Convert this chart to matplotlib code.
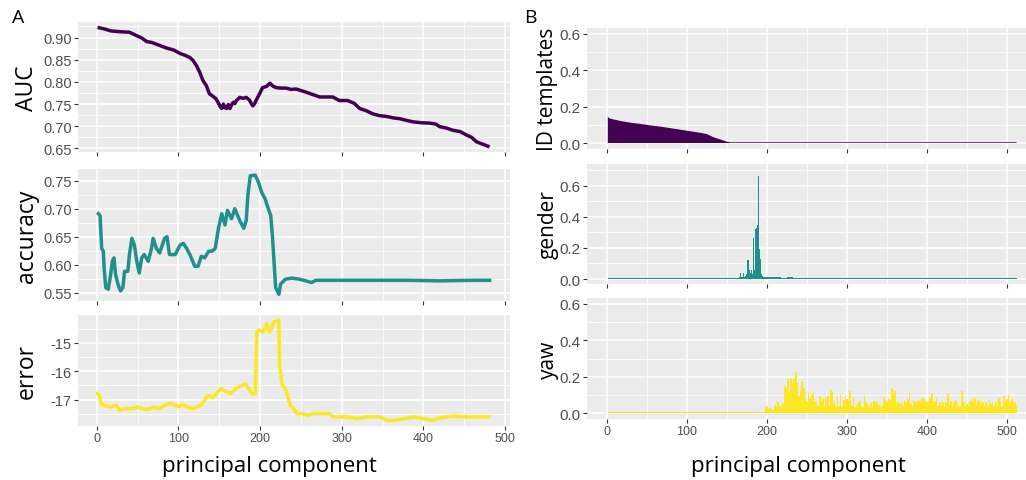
import numpy as np
import matplotlib
matplotlib.use("Agg")
import matplotlib.pyplot as plt
from matplotlib.ticker import MultipleLocator, FormatStrFormatter

# ---- panel A: sliding-window decoding over principal components ----
auc_pc = [3, 10, 17, 29, 40, 49, 55, 61, 67, 73, 80, 86, 94, 102, 108, 114, 118, 122, 126, 130,
          134, 138, 142, 146, 149, 151, 153, 155, 157, 159, 161, 163, 165, 167, 169, 171, 175, 179, 183, 187,
          189, 191, 193, 195, 199, 203, 208, 212, 216, 220, 226, 232, 238, 244, 256, 273, 289, 297, 307, 315,
          322, 330, 338, 346, 355, 363, 371, 380, 387, 397, 408, 415, 420, 428, 436, 445, 453, 459, 465, 472, 479]
auc = [0.922, 0.919, 0.915, 0.913, 0.912, 0.904, 0.899, 0.891, 0.889, 0.885, 0.880, 0.876, 0.872, 0.864, 0.860, 0.855, 0.848, 0.837, 0.822, 0.803,
       0.792, 0.773, 0.768, 0.762, 0.752, 0.745, 0.740, 0.750, 0.742, 0.740, 0.749, 0.740, 0.748, 0.754, 0.751, 0.758, 0.765, 0.763, 0.765, 0.759,
       0.752, 0.746, 0.750, 0.758, 0.772, 0.787, 0.790, 0.797, 0.790, 0.787, 0.786, 0.786, 0.783, 0.784, 0.777, 0.766, 0.766, 0.758, 0.758, 0.752,
       0.740, 0.735, 0.728, 0.724, 0.722, 0.719, 0.717, 0.713, 0.710, 0.708, 0.707, 0.705, 0.699, 0.696, 0.691, 0.688, 0.680, 0.675, 0.665, 0.660, 0.655]

acc_pc = [2, 4, 6, 8, 9, 11, 14, 17, 19, 21, 23, 26, 29, 32, 34, 38, 40, 43, 46, 49,
          52, 55, 58, 63, 67, 69, 73, 77, 83, 86, 89, 96, 102, 106, 110, 114, 120, 124, 128, 132,
          137, 141, 145, 149, 153, 157, 160, 165, 169, 175, 180, 183, 185, 188, 194, 198, 202, 206, 210, 213,
          215, 217, 219, 223, 225, 231, 239, 248, 256, 263, 268, 288, 330, 380, 420, 460, 481]
accuracy = [0.691, 0.688, 0.629, 0.624, 0.594, 0.559, 0.556, 0.582, 0.606, 0.612, 0.582, 0.565, 0.553, 0.559, 0.588, 0.588, 0.618, 0.647, 0.635, 0.606,
            0.585, 0.612, 0.618, 0.606, 0.629, 0.647, 0.629, 0.621, 0.647, 0.650, 0.618, 0.618, 0.635, 0.638, 0.629, 0.618, 0.597, 0.597, 0.615, 0.612,
            0.624, 0.624, 0.629, 0.665, 0.691, 0.671, 0.697, 0.682, 0.700, 0.679, 0.665, 0.679, 0.724, 0.759, 0.760, 0.747, 0.729, 0.718, 0.700, 0.688,
            0.653, 0.606, 0.559, 0.547, 0.565, 0.574, 0.576, 0.574, 0.571, 0.568, 0.572, 0.572, 0.572, 0.572, 0.571, 0.572, 0.572]

err_pc = [1, 3, 5, 9, 17, 24, 28, 32, 38, 44, 50, 56, 62, 70, 77, 83, 89, 95, 101, 105,
          111, 117, 124, 128, 132, 136, 142, 148, 152, 158, 164, 170, 176, 182, 186, 190, 194, 196, 198, 204,
          208, 211, 214, 217, 223, 224, 227, 231, 237, 241, 245, 251, 258, 266, 274, 284, 290, 307, 319, 331,
          347, 355, 364, 376, 388, 400, 410, 421, 437, 453, 470, 480]
error = [-16.79, -16.85, -17.14, -17.20, -17.26, -17.20, -17.38, -17.32, -17.32, -17.32, -17.26, -17.32, -17.34, -17.27, -17.32, -17.20, -17.14, -17.18, -17.26, -17.18,
         -17.26, -17.32, -17.26, -17.18, -17.02, -16.85, -16.94, -16.73, -16.61, -16.71, -16.79, -16.61, -16.52, -16.44, -16.61, -16.79, -16.79, -14.61, -14.55, -14.61,
         -14.32, -14.61, -14.49, -14.26, -14.20, -15.79, -16.49, -16.61, -17.20, -17.32, -17.49, -17.49, -17.55, -17.49, -17.49, -17.49, -17.61, -17.61, -17.67, -17.61,
         -17.61, -17.73, -17.73, -17.67, -17.61, -17.67, -17.73, -17.64, -17.58, -17.61, -17.61, -17.61]

# ---- panel B: per-component weights ----
# ID templates: smooth profile, read at these PCs
id_pc = [1, 2, 4, 8, 17, 29, 42, 54, 67, 79, 92, 104, 117, 125, 133, 142, 150, 154, 160, 512]
id_templates = [0.146, 0.140, 0.134, 0.130, 0.121, 0.112, 0.105, 0.097, 0.090, 0.082,
                0.073, 0.065, 0.056, 0.049, 0.032, 0.019, 0.007, 0.004, 0.004, 0.004]

# gender / yaw: bin edges on the PC axis, height per bin
gender_edges = list(np.arange(1, 161, 8)) + list(np.arange(161, 201, 1)) + list(np.arange(201, 514, 8))
gender = [0.004, 0.005, 0.004, 0.006, 0.005, 0.004, 0.005, 0.006, 0.004, 0.005,
          0.004, 0.005, 0.006, 0.005, 0.004, 0.005, 0.004, 0.006, 0.005, 0.006,
          0.006, 0.005, 0.008, 0.006, 0.010, 0.037, 0.037, 0.010, 0.012, 0.037,
          0.012, 0.015, 0.020, 0.030, 0.120, 0.125, 0.128, 0.060, 0.040, 0.060,
          0.030, 0.260, 0.265, 0.060, 0.320, 0.325, 0.345, 0.350, 0.660, 0.190,
          0.130, 0.050, 0.030, 0.020, 0.015, 0.012, 0.015, 0.010, 0.012, 0.010,
          0.012, 0.010, 0.008, 0.010, 0.007, 0.006, 0.005, 0.006, 0.005, 0.004,
          0.006, 0.005, 0.007, 0.005, 0.004, 0.005, 0.006, 0.005, 0.008, 0.005,
          0.004, 0.005, 0.006, 0.005, 0.004, 0.005, 0.007, 0.005, 0.006, 0.005,
          0.004, 0.006, 0.005, 0.004, 0.005, 0.007, 0.005, 0.006, 0.005]

yaw_edges = [1, 190] + list(np.arange(197, 514, 2))
yaw = [0.004, 0.008,
       0.031, 0.040, 0.022, 0.025, 0.022, 0.018, 0.045, 0.031, 0.058, 0.040,
       0.030, 0.049, 0.149, 0.140, 0.185, 0.113, 0.195, 0.158, 0.189, 0.225,
       0.167, 0.095, 0.122, 0.176, 0.140, 0.076, 0.062, 0.113, 0.076, 0.098,
       0.113, 0.067, 0.058, 0.040, 0.095, 0.058, 0.076, 0.040, 0.080, 0.095,
       0.040, 0.127, 0.113, 0.055, 0.040, 0.091, 0.040, 0.098, 0.035, 0.073,
       0.091, 0.076, 0.067, 0.120, 0.040, 0.080, 0.031, 0.040, 0.055, 0.067,
       0.040, 0.035, 0.095, 0.058, 0.044, 0.031, 0.055, 0.031, 0.067, 0.058,
       0.067, 0.044, 0.035, 0.040, 0.085, 0.067, 0.058, 0.076, 0.070, 0.135,
       0.110, 0.120, 0.055, 0.058, 0.049, 0.058, 0.040, 0.073, 0.058, 0.076,
       0.116, 0.049, 0.035, 0.067, 0.058, 0.073, 0.067, 0.058, 0.080, 0.076,
       0.067, 0.058, 0.067, 0.080, 0.109, 0.058, 0.067, 0.080, 0.040, 0.058,
       0.040, 0.058, 0.031, 0.058, 0.102, 0.049, 0.067, 0.040, 0.058, 0.073,
       0.049, 0.040, 0.035, 0.120, 0.058, 0.040, 0.049, 0.036, 0.067, 0.076,
       0.062, 0.080, 0.040, 0.073, 0.067, 0.049, 0.058, 0.040, 0.058, 0.040,
       0.073, 0.049, 0.062, 0.040, 0.058, 0.040, 0.085, 0.067, 0.035, 0.091,
       0.058, 0.076, 0.098, 0.062, 0.076, 0.062, 0.062, 0.040]

PURPLE, TEAL, YELLOW = "#440154", "#21908C", "#FDE725"
TITLE_FONT = "Open Sans"
TICK_FONT = "Liberation Sans"

W, H = 1026, 481
fig = plt.figure(figsize=(W / 100, H / 100), dpi=100)


def add_axes(left, top, right, bottom):
    # pixel box -> figure fraction
    return fig.add_axes([left / W, 1 - bottom / H, (right - left) / W, (bottom - top) / H])


def gg_style(ax, ysize):
    ax.set_facecolor("#EBEBEB")
    for s in ax.spines.values():
        s.set_visible(False)
    ax.set_axisbelow(True)
    ax.grid(True, which="major", color="white", linewidth=1.1)
    ax.grid(True, which="minor", color="white", linewidth=0.55)
    ax.tick_params(which="major", length=3, width=0.8, color="#333333", labelcolor="#4D4D4D", pad=1.5)
    ax.tick_params(which="minor", length=0)
    ax.tick_params(axis="y", labelsize=ysize)
    ax.tick_params(axis="x", labelsize=9)
    for lab in ax.get_xticklabels() + ax.get_yticklabels():
        lab.set_fontfamily(TICK_FONT)


# left column
left_boxes = [(78, 23, 510, 153), (78, 170, 510, 302), (78, 316, 510, 427)]
left_data = [(auc_pc, auc, PURPLE, "AUC", (0.642, 0.935), 0.05, "%.2f"),
             (acc_pc, accuracy, TEAL, "accuracy", (0.535, 0.771), 0.05, "%.2f"),
             (err_pc, error, YELLOW, "error", (-17.93, -14.02), 1.0, "%d")]
for i, (box, (xs, ys, col, lab, ylim, step, fmt)) in enumerate(zip(left_boxes, left_data)):
    ax = add_axes(*box)
    ax.plot(xs, ys, color=col, linewidth=2.5, solid_joinstyle="round")
    ax.set_xlim(-23, 506)
    ax.set_ylim(*ylim)
    ax.xaxis.set_major_locator(MultipleLocator(100))
    ax.xaxis.set_minor_locator(MultipleLocator(50))
    ax.yaxis.set_major_locator(MultipleLocator(step))
    ax.yaxis.set_minor_locator(MultipleLocator(step / 2))
    ax.yaxis.set_major_formatter(FormatStrFormatter(fmt))
    if i < 2:
        ax.set_xticklabels([])
    gg_style(ax, 10.5)
    ax.set_ylabel(lab, fontsize=16.5, family=TITLE_FONT, va="center")
    ax.yaxis.set_label_coords(-0.118, 0.5)

# right column
right_boxes = [(587, 29, 1026, 150), (587, 165, 1026, 285), (587, 299, 1026, 420)]
right_data = [(id_pc, id_templates, PURPLE, "ID templates", (-0.033, 0.633), None),
              (gender_edges, gender, TEAL, "gender", (-0.032, 0.739), "post"),
              (yaw_edges, yaw, YELLOW, "yaw", (-0.033, 0.633), "post")]
for i, (box, (xs, vals, col, lab, ylim, step)) in enumerate(zip(right_boxes, right_data)):
    ax = add_axes(*box)
    ys = list(vals) + [vals[-1]] if step else list(vals)
    ax.fill_between(xs, ys, 0, step=step, facecolor=col, edgecolor="none", linewidth=0)
    ax.set_xlim(-25, 523.75)
    ax.set_ylim(*ylim)
    ax.xaxis.set_major_locator(MultipleLocator(100))
    ax.xaxis.set_minor_locator(MultipleLocator(50))
    ax.yaxis.set_major_locator(MultipleLocator(0.2))
    ax.yaxis.set_minor_locator(MultipleLocator(0.1))
    ax.yaxis.set_major_formatter(FormatStrFormatter("%.1f"))
    if i < 2:
        ax.set_xticklabels([])
    gg_style(ax, 11)
    ax.set_ylabel(lab, fontsize=15, family=TITLE_FONT, va="center")
    ax.yaxis.set_label_coords(-0.089, 0.5)

fig.text(269 / W, 1 - 467 / H, "principal component", fontsize=16, family=TITLE_FONT,
         ha="center", va="center")
fig.text(798 / W, 1 - 467 / H, "principal component", fontsize=16, family=TITLE_FONT,
         ha="center", va="center")
fig.text(18 / W, 1 - 18 / H, "A", fontsize=14, family=TITLE_FONT, ha="center", va="center")
fig.text(530 / W, 1 - 18 / H, "B", fontsize=14, family=TITLE_FONT, ha="center", va="center")

fig.savefig("out.png", dpi=100)
